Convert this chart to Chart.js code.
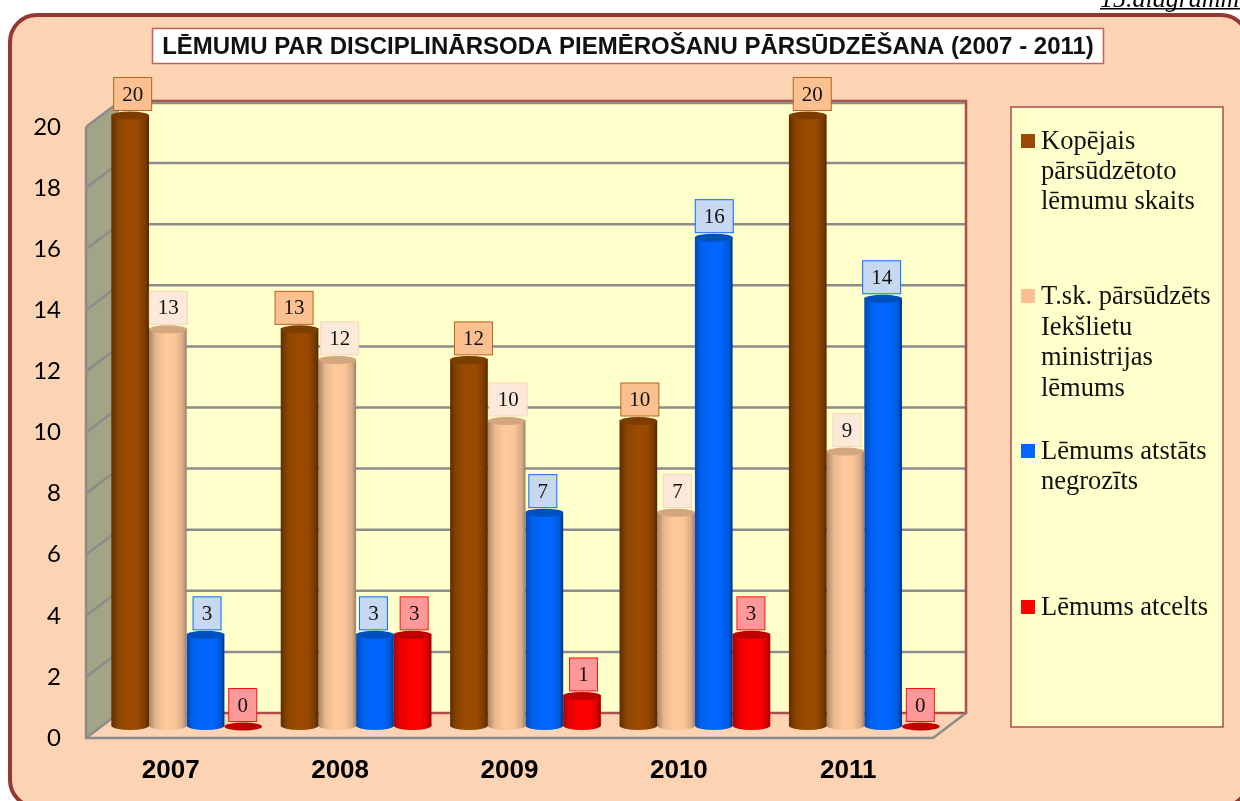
<!DOCTYPE html>
<html><head><meta charset="utf-8">
<style>html,body{margin:0;padding:0;background:#fff}#w{position:absolute;left:0;top:0;width:1240px;height:801px}</style>
<script src="https://cdn.jsdelivr.net/npm/chart.js@4/dist/chart.umd.min.js"></script>
</head><body><div id="w"><canvas id="c" width="1240" height="801"></canvas></div>
<script>
const categories = ["2007","2008","2009","2010","2011"];
const kopejais = [20,13,12,10,20];
const iekslietu = [13,12,10,7,9];
const atstats = [3,3,7,16,14];
const atcelts = [0,3,1,3,0];
const seriesNames = ["Kopējais pārsūdzētoto lēmumu skaits","T.sk. pārsūdzēts Iekšlietu ministrijas lēmums","Lēmums atstāts negrozīts","Lēmums atcelts"];
const legendLines = [["Kopējais","pārsūdzētoto","lēmumu skaits"],["T.sk. pārsūdzēts","Iekšlietu","ministrijas","lēmums"],["Lēmums atstāts","negrozīts"],["Lēmums atcelts"]];
const titleText = "LĒMUMU PAR DISCIPLINĀRSODA PIEMĒROŠANU PĀRSŪDZĒŠANA (2007 - 2011)";
const captionText = "15.diagramma";

const styles = [
 {g:["#5f2e00","#8a4400","#9c4b02","#9a4a00","#7a3b00","#552800"],cap:"#7c3e00",box:"#fac08f",edge:"#b5651d",key:"#984807"},
 {g:["#a98468","#e8b78d","#ffc99b","#fcc596","#d5ab87","#9c8068"],cap:"#d3a67f",box:"#fde9d9",edge:"#f6d5b8",key:"#fac090"},
 {g:["#0048b8","#0062ee","#0066ff","#0066ff","#0058d8","#00337c"],cap:"#0050c0",box:"#c6d9f1",edge:"#0a6cf5",key:"#0066ff"},
 {g:["#a80000","#e80000","#ff0000","#ff0000","#d80000","#980000"],cap:"#c00000",box:"#ff9999",edge:"#ff1010",key:"#ff0000"}
];
const stops=[0,0.18,0.45,0.7,0.9,1];
const dx=33, dy=25, shiftX=16, shiftY=12.5, capR=4.5;
// small sideways nudges of individual value boxes, per series and year
const boxNudge=[[1,-7,3,0,3],[-1,1,0,0,0],[0,-3,-3,-1,-3],[-2,0,0,-2,-2]];

const look = {
 id:"look",
 afterLayout(chart){ chart.titleBlock.left=0; chart.titleBlock.right=1256; },
 beforeDraw(chart){
  const ctx=chart.ctx, a=chart.chartArea, ys=chart.scales.y;
  ctx.save();
  ctx.fillStyle="#fff";ctx.fillRect(0,0,1240,801);
  ctx.beginPath();ctx.roundRect(10,15,1238,792,27);ctx.fillStyle="#fcd3b3";ctx.fill();
  ctx.lineWidth=4;ctx.strokeStyle="#953735";ctx.stroke();
  ctx.fillStyle="#000";ctx.font="italic 26px 'Liberation Serif'";ctx.textAlign="left";ctx.textBaseline="alphabetic";
  ctx.fillText(captionText,1100,7);ctx.fillRect(1100,8,140,1.5);
  ctx.fillStyle="#fff";ctx.strokeStyle="#c0605c";ctx.lineWidth=1.5;
  ctx.fillRect(152.5,28.5,951,35);ctx.strokeRect(152.5,28.5,951,35);
  const L=a.left,R=a.right,B=a.bottom,T=a.top;
  ctx.fillStyle="#ffffcc";ctx.fillRect(L+dx,T-dy,R-L,B-T);
  ctx.fillStyle="#a3a385";ctx.beginPath();ctx.moveTo(L,T);ctx.lineTo(L+dx,T-dy);ctx.lineTo(L+dx,B-dy);ctx.lineTo(L,B);ctx.closePath();ctx.fill();
  ctx.strokeStyle="#8c8c8c";ctx.lineWidth=2.5;
  ys.ticks.forEach(t=>{
    const y=ys.getPixelForValue(t.value);
    ctx.beginPath();ctx.moveTo(L,y);ctx.lineTo(L+dx,y-dy);
    if(t.value>0)ctx.lineTo(R+dx-1,y-dy);
    ctx.stroke();
  });
  ctx.strokeStyle="#a8504c";ctx.lineWidth=2.5;
  ctx.beginPath();ctx.moveTo(L+dx,B-dy);ctx.lineTo(R+dx,B-dy);ctx.lineTo(R+dx,T-dy-1);ctx.lineTo(L+dx,T-dy-1);ctx.stroke();
  ctx.strokeStyle="#8c8c8c";
  ctx.beginPath();ctx.moveTo(L,T);ctx.lineTo(L,B);ctx.lineTo(R,B);ctx.lineTo(R+dx,B-dy);ctx.stroke();
  ctx.beginPath();ctx.moveTo(L+dx,T-dy+1);ctx.lineTo(R+dx-1,T-dy+1);ctx.stroke();
  ctx.fillStyle="#ffffcc";ctx.strokeStyle="#a8504c";ctx.lineWidth=1.5;
  ctx.fillRect(1011,107,212,620);ctx.strokeRect(1011,107,212,620);
  const tops=[142,297,452,608], lh=[30,30.7,30,30];
  ctx.font="26.5px 'Liberation Serif'";ctx.textBaseline="middle";ctx.textAlign="left";
  legendLines.forEach((lines,i)=>{
    ctx.fillStyle=styles[i].key;
    ctx.fillRect(1021,tops[i]-8,14,14);
    ctx.fillStyle="#111";
    lines.forEach((s,j)=>ctx.fillText(s,1041,tops[i]+j*lh[i]));
  });
  ctx.restore();
 },
 beforeDatasetDraw(chart,args){
  const ctx=chart.ctx, st=styles[args.index], vals=chart.data.datasets[args.index].data;
  ctx.save();ctx.translate(shiftX,-shiftY);
  args.meta.data.forEach((el,k)=>{
    const w=el.width, g=ctx.createLinearGradient(el.x-w/2,0,el.x+w/2,0);
    stops.forEach((s,i)=>g.addColorStop(s,st.g[i]));
    el.options=Object.assign({},el.options,{backgroundColor:g,borderWidth:0});
    if(vals[k]>0){
      ctx.fillStyle=g;ctx.beginPath();ctx.ellipse(el.x,el.base,w/2,capR,0,0,Math.PI*2);ctx.fill();
    }
  });
 },
 afterDatasetDraw(chart,args){
  const ctx=chart.ctx, st=styles[args.index];
  args.meta.data.forEach(el=>{
    ctx.fillStyle=st.cap;ctx.beginPath();ctx.ellipse(el.x,el.y+1,el.width/2,capR-0.5,0,0,Math.PI*2);ctx.fill();
  });
  ctx.restore();
 },
 afterDatasetsDraw(chart){
  const ctx=chart.ctx;
  ctx.save();
  chart.data.datasets.forEach((ds,i)=>{
    const st=styles[i];
    chart.getDatasetMeta(i).data.forEach((el,k)=>{
      const s=String(ds.data[k]), w=s.length>1?38:28, h=33;
      const cx=el.x+shiftX+1.5+boxNudge[i][k], bottom=el.y-shiftY-4;
      ctx.fillStyle=st.box;ctx.strokeStyle=st.edge;ctx.lineWidth=1;
      ctx.fillRect(cx-w/2,bottom-h,w,h);ctx.strokeRect(cx-w/2,bottom-h,w,h);
      ctx.fillStyle="#111";ctx.font="21px 'Liberation Serif'";ctx.textAlign="center";ctx.textBaseline="middle";
      ctx.fillText(s,cx,bottom-h/2+1);
    });
  });
  ctx.restore();
 }
};
const series=[kopejais,iekslietu,atstats,atcelts];
new Chart(document.getElementById("c"),{
 type:"bar",
 data:{labels:categories,datasets:series.map((d,i)=>({label:seriesNames[i],data:d,backgroundColor:styles[i].cap}))},
 plugins:[look],
 options:{
  responsive:false,animation:false,
  layout:{padding:{left:0,right:307,top:0,bottom:0}},
  datasets:{bar:{categoryPercentage:0.89,barPercentage:1}},
  plugins:{
   legend:{display:false},tooltip:{enabled:false},
   title:{display:true,text:titleText,color:"#111",font:{family:"'Liberation Sans'",size:24,weight:"bold",lineHeight:1.2},padding:{top:32.6,bottom:65.6}}
  },
  scales:{
   x:{afterFit(s){s.height=63;},grid:{display:false},border:{display:false},
      ticks:{color:"#000",font:{family:"'Liberation Sans'",size:26,weight:"bold"},padding:9,maxRotation:0}},
   y:{min:0,max:20,afterFit(s){s.width=86;},grid:{display:false,drawTicks:false},border:{display:false},
      ticks:{stepSize:2,color:"#000",font:{family:"Lato",size:24},padding:25}}
  }
 }
});
</script></body></html>
